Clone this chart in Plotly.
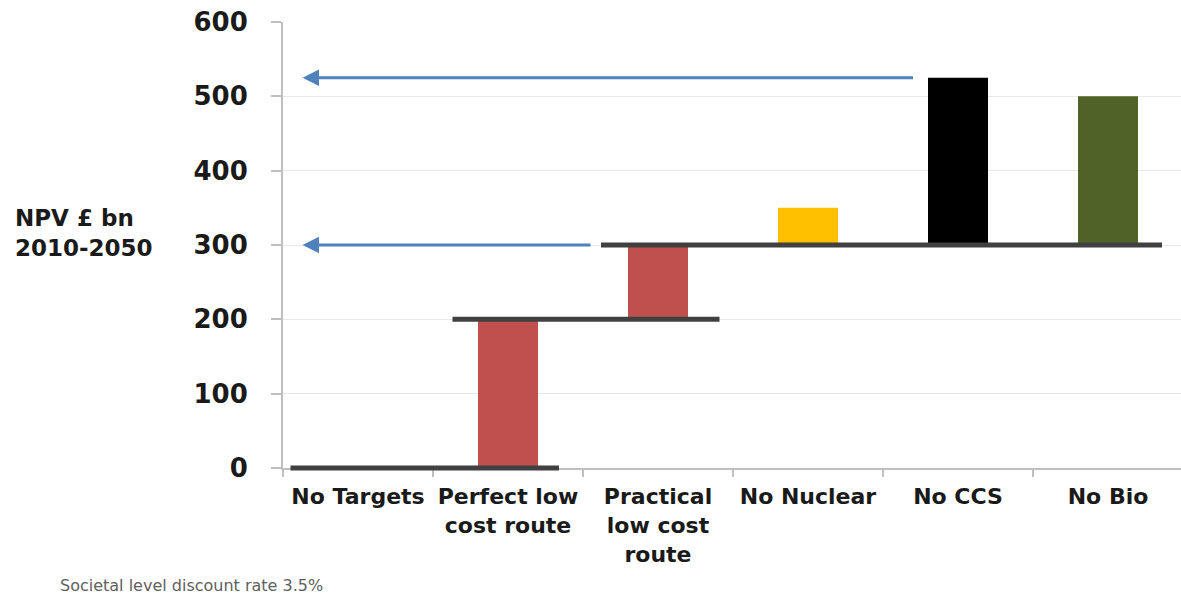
import plotly.graph_objects as go

# ---- data ----
categories = ["No Targets", "Perfect low cost route", "Practical low cost route",
              "No Nuclear", "No CCS", "No Bio"]
tick_labels = ["No Targets", "Perfect low<br>cost route", "Practical<br>low cost<br>route",
               "No Nuclear", "No CCS", "No Bio"]
bar_base = [0, 0, 200, 300, 300, 300]
bar_top = [0, 200, 300, 350, 525, 500]
bar_colors = ["#c0504d", "#c0504d", "#c0504d", "#ffc000", "#000000", "#4f6228"]

# step (level) lines: value, from-category index, to-category index
step_levels = [0, 200, 300]
step_from = [0, 1, 2]
step_to = [1, 2, 5]

# arrows: value level, starting category index
arrow_levels = [525, 300]
arrow_from = [4, 2]

y_ticks = [0, 100, 200, 300, 400, 500, 600]
y_max = 600

# ---- figure ----
W, H = 1181, 598
L, T, B, R = 283, 22, 130, 0
plot_w = W - L - R
x_range = [-0.5, -0.5 + plot_w / 150.0]

fig = go.Figure()
idx = list(range(len(categories)))
fig.add_trace(go.Bar(
    x=idx,
    y=[t - b for t, b in zip(bar_top, bar_base)],
    base=bar_base,
    width=0.4,
    marker=dict(color=bar_colors, line=dict(width=0)),
    hoverinfo="skip",
    showlegend=False,
))

# step lines (y in paper fraction so the zero line is not clipped)
left_off = [-0.45, -0.37, -0.38]
right_off = [0.34, 0.41, 0.36]
for lv, a, b, lo, ro in zip(step_levels, step_from, step_to, left_off, right_off):
    fig.add_shape(type="line", xref="x", yref="paper",
                  x0=a + lo, x1=b + ro, y0=lv / y_max, y1=lv / y_max,
                  line=dict(color="#404040", width=5), layer="above")

# arrows
arrow_tail_off = [-0.29, -0.44]
for lv, a, off in zip(arrow_levels, arrow_from, arrow_tail_off):
    fig.add_annotation(x=-0.37, y=lv, ax=a + off, ay=lv,
                       xref="x", yref="y", axref="x", ayref="y",
                       text="", showarrow=True, arrowhead=2, arrowsize=1.1,
                       arrowwidth=3, arrowcolor="#4f81bd")

fig.update_xaxes(
    range=x_range,
    tickmode="array", tickvals=idx, ticktext=tick_labels,
    ticks="", showgrid=False, zeroline=False,
    showline=True, linecolor="#bfbfbf", linewidth=2,
    tickfont=dict(family="DejaVu Sans", size=22, color="#1a1a1a", weight="bold"),
    ticklabelstandoff=8,
    minor=dict(tickmode="array", tickvals=[i - 0.5 for i in range(len(categories) + 1)],
               ticks="outside", ticklen=7, tickcolor="#bfbfbf", tickwidth=2),
)
fig.update_yaxes(
    range=[0, y_max],
    tickmode="array", tickvals=y_ticks,
    ticks="outside", ticklen=10, tickcolor="#bfbfbf", tickwidth=2,
    showgrid=True, gridcolor="#e8e8e8", gridwidth=1,
    zeroline=False, showline=True, linecolor="#bfbfbf", linewidth=2,
    tickfont=dict(family="DejaVu Sans", size=26, color="#1a1a1a", weight="bold"),
    ticklabelstandoff=18,
)

fig.add_annotation(text="NPV £ bn<br>2010-2050", xref="paper", yref="paper",
                   x=(13 - L) / plot_w, y=(468 - 233) / 446.0,
                   xanchor="left", yanchor="middle", align="left", showarrow=False,
                   font=dict(family="DejaVu Sans", size=23, color="#1a1a1a", weight="bold"))
fig.add_annotation(text="Societal level discount rate 3.5%", xref="paper", yref="paper",
                   x=(58 - L) / plot_w, y=(468 - 585) / 446.0,
                   xanchor="left", yanchor="middle", showarrow=False,
                   font=dict(family="DejaVu Sans", size=16, color="#606060"))

fig.update_layout(
    width=W, height=H,
    margin=dict(l=L, r=R, t=T, b=B),
    paper_bgcolor="white", plot_bgcolor="white",
    bargap=0.6,
)

fig.write_html("out.html")
